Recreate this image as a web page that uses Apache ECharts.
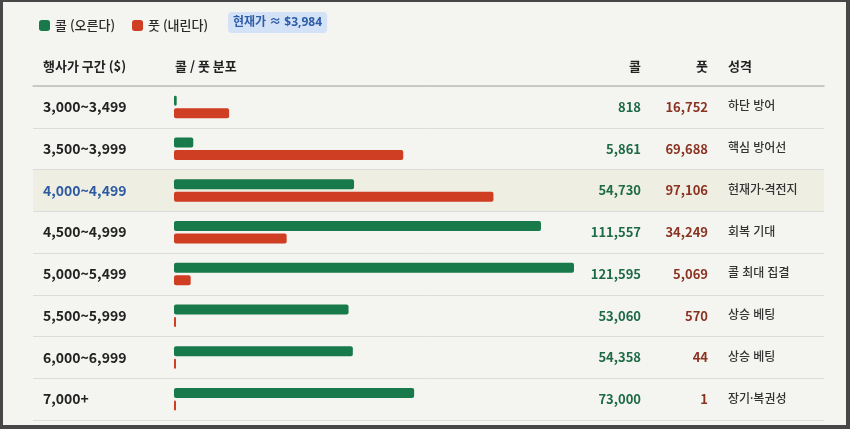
<!DOCTYPE html>
<html>
<head>
<meta charset="utf-8">
<script src="https://cdn.jsdelivr.net/npm/echarts@6/dist/echarts.min.js"></script>
<style>
	html, body { margin: 0; padding: 0; background: #474747; }
	#chart {
		position: absolute; left: 0; top: 0;
		width: 850px; height: 429px;
		box-sizing: border-box;
		border-style: solid; border-color: #474747;
		border-width: 2px 4px 4px 3px;
		background: #f4f4f1;
	}
</style>
</head>
<body>
<div id="chart"></div>
<script>
// 행사가 구간
const ranges = ['3,000~3,499', '3,500~3,999', '4,000~4,499', '4,500~4,999', '5,000~5,499', '5,500~5,999', '6,000~6,999', '7,000+'];
// 콜 / 풋 미결제
const callVals = [818, 5861, 54730, 111557, 121595, 53060, 54358, 73000];
const putVals = [16752, 69688, 97106, 34249, 5069, 570, 44, 1];
// 성격
const kinds = ['하단 방어', '핵심 방어선', '현재가·격전지', '회복 기대', '콜 최대 집결', '상승 베팅', '상승 베팅', '장기·복권성'];
const currentRow = 2; // 현재가 ≈ $3,984 가 있는 구간
const currentPrice = '현재가 ≈ $3,984';

const fmt = v => v.toLocaleString('en-US');
const FONT = 'Noto Sans CJK KR';

// 현재가 구간만 배경 강조
let rowBg = ranges.map((r, i) => i == currentRow ? '#efeee3' : 'rgba(0,0,0,0)');

const chart = echarts.init(document.getElementById('chart'));
const option = {
	backgroundColor: '#f4f4f1',
	textStyle: { fontFamily: FONT },
	title: {
		text: currentPrice,
		left: 225, top: 10,
		padding: [5, 5, 4, 5],
		backgroundColor: '#d3e2f6',
		borderRadius: 4,
		textStyle: { fontSize: 12, fontWeight: 'bold', color: '#2f5ea8', fontFamily: 'Noto Sans, Noto Sans CJK KR' }
	},
	legend: {
		left: 31, top: 12,
		icon: 'roundRect',
		itemWidth: 11, itemHeight: 11,
		itemGap: 17,
		textStyle: { fontSize: 13, color: '#2a2a2a', fontWeight: 500, fontFamily: FONT },
		data: ['콜 (오른다)', '풋 (내린다)']
	},
	grid: [
		{ left: 30, top: 84, width: 791, height: 334 }, // 표 줄
		{ left: 171, top: 84, width: 400, height: 334 } // 막대
	],
	xAxis: [{
		gridIndex: 0, type: 'value', position: 'top',
		axisLine: { show: true, lineStyle: { color: '#bdbdbd', width: 1.5 } },
		axisTick: { show: false }, axisLabel: { show: false }, splitLine: { show: false }
	}, {
		gridIndex: 1, type: 'value', min: 0, max: 'dataMax', show: false
	}],
	yAxis: [{
		gridIndex: 0, type: 'category', inverse: true, data: ranges,
		axisLine: { show: false }, axisTick: { show: false }, axisLabel: { show: false },
		splitLine: { show: true, lineStyle: { color: '#dcdcda', width: 1 } },
		splitArea: { show: true, areaStyle: { color: rowBg } }
	}, {
		gridIndex: 1, type: 'category', inverse: true, position: 'left', data: ranges,
		axisLine: { show: false }, axisTick: { show: false },
		axisLabel: {
			margin: 131, align: 'left', fontSize: 14, fontWeight: 600,
			color: (v, i) => i == currentRow ? '#2d5aa0' : '#222'
		}
	}, {
		gridIndex: 1, type: 'category', inverse: true, position: 'right', data: callVals.map(fmt),
		axisLine: { show: false }, axisTick: { show: false },
		axisLabel: { margin: 67, align: 'right', fontSize: 13, fontWeight: 600, color: '#1d6a45' }
	}, {
		gridIndex: 1, type: 'category', inverse: true, position: 'right', data: putVals.map(fmt),
		axisLine: { show: false }, axisTick: { show: false },
		axisLabel: { margin: 134, align: 'right', fontSize: 13, fontWeight: 600, color: '#8a3320' }
	}, {
		gridIndex: 1, type: 'category', inverse: true, position: 'right', data: kinds,
		axisLine: { show: false }, axisTick: { show: false },
		axisLabel: { margin: 154, align: 'left', fontSize: 12, fontWeight: 500, color: '#333', fontFamily: 'Noto Sans, Noto Sans CJK KR' }
	}],
	graphic: [
		{ type: 'text', left: 40, top: 58, style: { text: '행사가 구간 ($)', font: 'bold 13px "Noto Sans CJK KR"', fill: '#222' } },
		{ type: 'text', left: 172, top: 58, style: { text: '콜 / 풋 분포', font: 'bold 13px "Noto Sans CJK KR"', fill: '#222' } },
		{ type: 'text', right: 843 - 638, top: 58, style: { text: '콜', font: 'bold 13px "Noto Sans CJK KR"', fill: '#222' } },
		{ type: 'text', right: 843 - 705, top: 58, style: { text: '풋', font: 'bold 13px "Noto Sans CJK KR"', fill: '#222' } },
		{ type: 'text', left: 725, top: 58, style: { text: '성격', font: 'bold 13px "Noto Sans CJK KR"', fill: '#222' } }
	],
	series: [{
		name: '콜 (오른다)', type: 'bar', xAxisIndex: 1, yAxisIndex: 1,
		data: callVals, barWidth: 10, barGap: '25%', barMinHeight: 2,
		itemStyle: { color: '#187a4b', borderRadius: 2 }
	}, {
		name: '풋 (내린다)', type: 'bar', xAxisIndex: 1, yAxisIndex: 1,
		data: putVals, barWidth: 10, barGap: '25%', barMinHeight: 2,
		itemStyle: { color: '#cf3d22', borderRadius: 2 }
	}]
};
chart.setOption(option);
</script>
</body>
</html>
